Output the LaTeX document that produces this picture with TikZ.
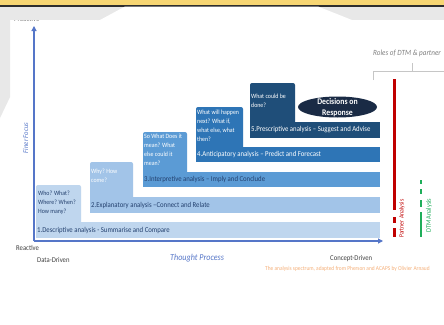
\documentclass[tikz,border=0pt]{standalone}
\usepackage{fontspec}
\setmainfont{Carlito}[FakeStretch=0.9]
\usetikzlibrary{arrows.meta,shapes.geometric}
\definecolor{ytop}{HTML}{F7D673}
\definecolor{dline}{HTML}{2E2E2E}
\definecolor{bgg}{HTML}{E8E8E8}
\definecolor{cA}{HTML}{BFD6EE}
\definecolor{cB}{HTML}{A2C4E8}
\definecolor{cC}{HTML}{5B9BD5}
\definecolor{cD}{HTML}{2E75B6}
\definecolor{cE}{HTML}{1F4E79}
\definecolor{navyE}{HTML}{1A2B45}
\definecolor{axisc}{HTML}{5576C8}
\definecolor{dtext}{HTML}{23406E}
\definecolor{redc}{HTML}{C00000}
\definecolor{greenc}{HTML}{1FAE5A}
\definecolor{orangec}{HTML}{F5B07A}
\definecolor{graytxt}{HTML}{404040}
\tikzset{
  barbox/.style={rectangle, inner sep=0, anchor=north west, minimum height=16pt},
  tabfill/.style={rounded corners=2pt},
  barlabel/.style={anchor=west, inner sep=0, font=\fontsize{7.5}{8}\selectfont},
  tablabel/.style={anchor=north west, inner sep=0, align=left, font=\fontsize{6.5}{9}\selectfont},
  axisline/.style={draw=axisc, line width=1.1pt},
  plain/.style={inner sep=0, font=\fontsize{7.4}{8}\selectfont, text=graytxt},
}
\begin{document}
\begin{tikzpicture}[x=1pt,y=-1pt]
\useasboundingbox (0,0) rectangle (444,324);
\fill[white] (0,0) rectangle (444,324);
% cut-off top label
\node[plain, anchor=base west, text=gray] (pro) at (14,21.5) {Proactive};
% screenshot frame
\fill[ytop] (0,0) rectangle (444,5);
\fill[dline] (0,5) rectangle (444,6.5);
\fill[bgg] (0,6.5) rectangle (444,20);
\fill[white] (125,6.5) -- (318,6.5) -- (352,20) -- (100,20) -- cycle;
\fill[bgg] (0,20) -- (10,20) -- (10,97) -- (0,118) -- cycle;

% tabs
\fill[cA, tabfill] (36,185) rectangle (81,226);
\fill[cB, tabfill] (90,162) rectangle (133,201);
\fill[cC, tabfill] (143,132) rectangle (187,176);
\fill[cD, tabfill] (196,107) rectangle (243,151);
\fill[cE, tabfill] (250,83) rectangle (295,126);
% bars
\node[barbox, fill=cA, minimum width=344pt] (b1) at (36,222) {};
\node[barbox, fill=cB, minimum width=290pt] (b2) at (90,197) {};
\node[barbox, fill=cC, minimum width=237pt, minimum height=15pt] (b3) at (143,172) {};
\node[barbox, fill=cD, minimum width=184pt, minimum height=15pt] (b4) at (196,147) {};
\node[barbox, fill=cE, minimum width=130pt] (b5) at (250,122) {};
% bar labels
\node[barlabel, text=dtext] (l1) at (37,230) {1.Descriptive analysis - Summarise and Compare};
\node[barlabel, text=dtext] (l2) at (91,205) {2.Explanatory analysis \textendash Connect and Relate};
\node[barlabel, text=dtext] (l3) at (144,179.5) {3.Interpretive analysis \textendash{} Imply and Conclude};
\node[barlabel, text=white] (l4) at (197,154.5) {4.Anticipatory analysis \textendash{} Predict and Forecast};
\node[barlabel, text=white] (l5) at (251,130) {5.Prescriptive analysis \textendash{} Suggest and Advise};
% tab labels
\node[tablabel, text=dtext] (q1) at (38,190.5) {Who? What?\\Where? When?\\How many?};
\node[tablabel, text=white] (q2) at (91,169) {Why? How\\come?};
\node[tablabel, text=white] (q3) at (144,133.5) {So What Does it\\mean? What\\else could it\\mean?};
\node[tablabel, text=white] (q4) at (197,109.5) {What will happen\\next? What if,\\what else, what\\then?};
\node[tablabel, text=white] (q5) at (251,93.5) {What could be\\done?};
% ellipse
\node[ellipse, fill=navyE, inner sep=0, minimum width=79pt, minimum height=21pt] (dec) at (337.5,107) {};
\node[inner sep=0, align=center, text=white, font=\fontsize{8.6}{11}\bfseries\selectfont] (dect) at (337.5,108) {Decisions on\\Response};

% axes
\coordinate (org) at (34,241);
\coordinate (ytip) at (34,26);
\coordinate (xtip) at (383,241);
\draw[axisline, -{Triangle[length=5pt,width=5pt]}] (org) -- (ytip);
\draw[axisline, -{Triangle[length=5pt,width=5pt]}] (org) -- (xtip);

% axis labels
\node[inner sep=0, rotate=90, text=axisc, font=\fontsize{7.4}{8}\itshape\selectfont] (ff) at (25.5,138) {Finer Focus};
\node[plain, anchor=west] (rea) at (16,248) {Reactive};
\node[plain, anchor=west] (dd) at (37,259.5) {Data-Driven};
\node[inner sep=0, anchor=west, text=axisc, font=\fontsize{9}{10}\itshape\selectfont] (tp) at (170,258.5) {Thought Process};
\node[plain, anchor=west] (cd) at (330,258.5) {Concept-Driven};
\node[inner sep=0, anchor=west, text=orangec, font=\fontsize{6}{6}\selectfont] (cap) at (265,268.5) {The analysis spectrum, adapted from Pherson and ACAPS by Olivier Arnaud};

% roles
\node[inner sep=0, anchor=west, text=gray, font=\fontsize{7.9}{9}\itshape\selectfont] (roles) at (373,53.5) {Roles of DTM \& partner};
\coordinate (brL) at (373,80);
\coordinate (brC) at (373,71);
\coordinate (brR) at (446,71);
\coordinate (brM) at (412,71);
\coordinate (brT) at (412,63);
\draw[gray!45, line width=0.8pt] (brL) -- (brC) -- (brR);
\draw[gray!45, line width=0.8pt] (brM) -- (brT);

% partner bar
\draw[redc, line width=3pt] (394,79) -- (394,210);
\draw[redc, line width=3pt] (394,217) -- (394,223);
\draw[redc, line width=3pt] (394,228) -- (394,237);
\node[inner sep=0, anchor=west, rotate=90, text=redc, font=\fontsize{6.5}{7}\selectfont] (pa) at (402,238) {Partner Analysis};
% DTM bar
\draw[greenc, line width=2.6pt] (421,180) -- (421,183.5);
\draw[greenc, line width=2.6pt] (421,189) -- (421,194);
\draw[greenc, line width=2.6pt] (421,200) -- (421,207);
\draw[greenc, line width=2.6pt] (421,212) -- (421,237);
\node[inner sep=0, anchor=west, rotate=90, text=greenc, font=\fontsize{7}{7}\selectfont] (da) at (429,233) {DTM Analysis};
\end{tikzpicture}
\end{document}
